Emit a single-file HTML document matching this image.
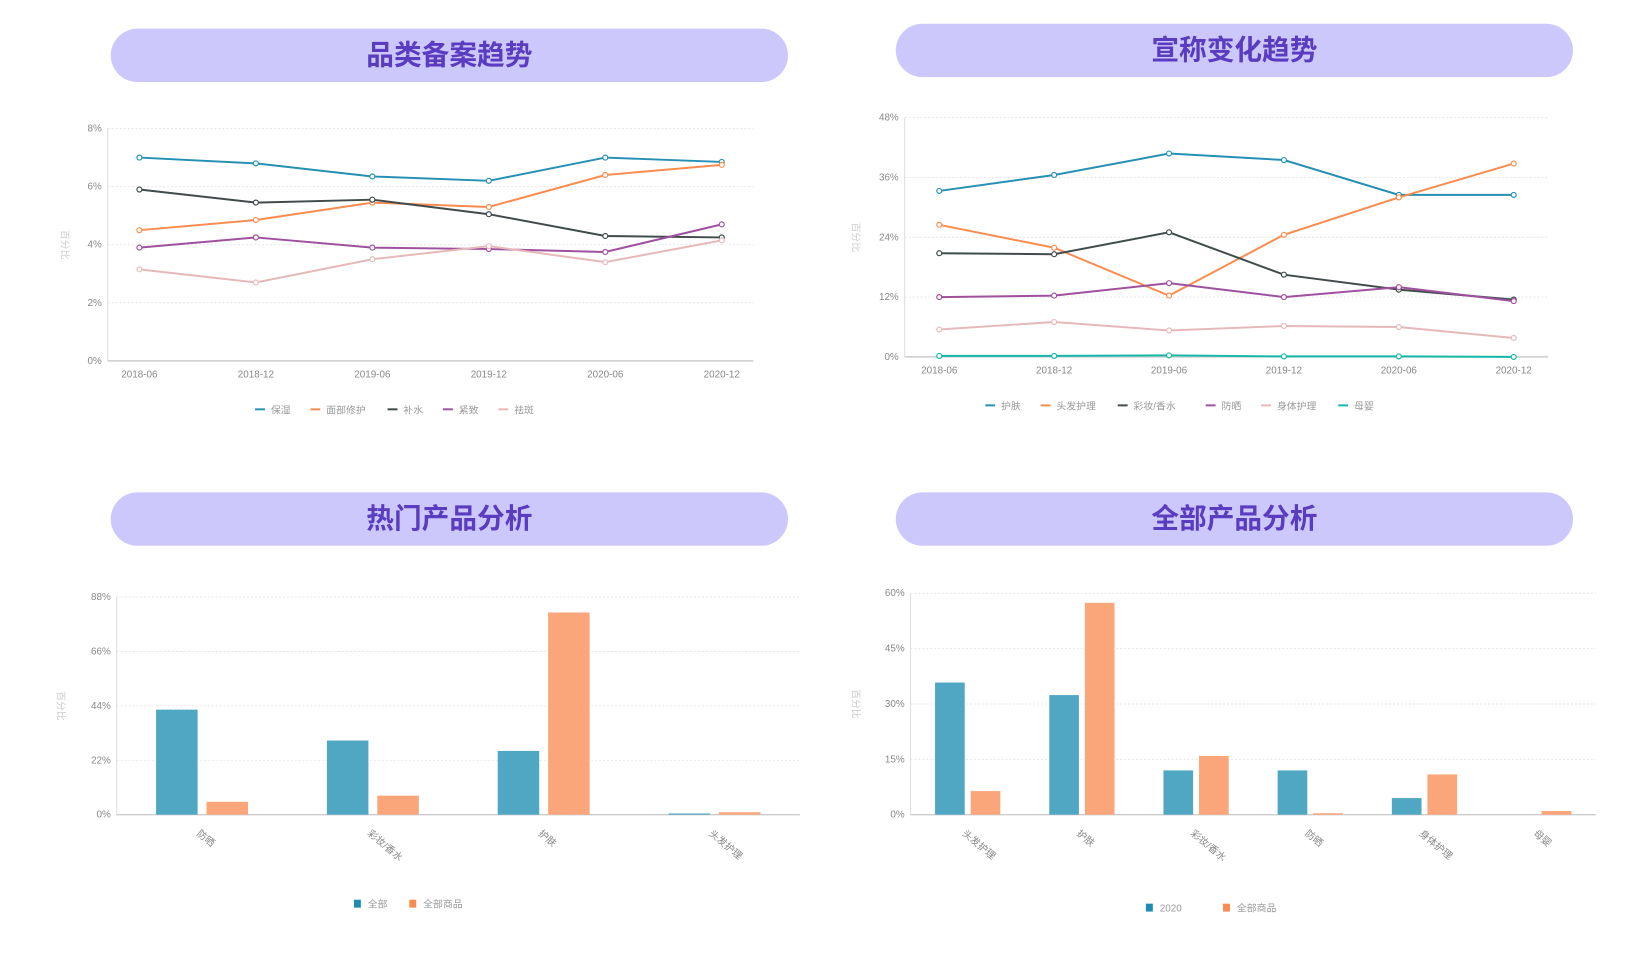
<!DOCTYPE html>
<html><head><meta charset="utf-8">
<style>
html,body{margin:0;padding:0;background:#fff;}
body{width:1646px;height:958px;position:relative;overflow:hidden;font-family:"Liberation Sans","Noto Sans CJK SC",sans-serif;}
#wrap{position:absolute;left:0;top:0;width:1646px;height:958px;transform:scale(0.9887);transform-origin:0 0;}
.pill{position:absolute;height:54px;width:685px;border-radius:27px;background:#cdc8fb;color:#5a3cc0;font-weight:bold;font-size:28px;text-align:center;line-height:54px;font-family:"Liberation Sans","Noto Sans CJK SC",sans-serif;}
svg{position:absolute;left:0;top:0;}
</style></head>
<body>
<div id="wrap">
<div class="pill" style="left:112px;top:29px;">品类备案趋势</div>
<div class="pill" style="left:906px;top:24px;">宣称变化趋势</div>
<div class="pill" style="left:112px;top:498px;">热门产品分析</div>
<div class="pill" style="left:906px;top:498px;">全部产品分析</div>
<svg id="svg" width="1646" height="958"></svg>
</div>
<script>
const months = ["2018-06","2018-12","2019-06","2019-12","2020-06","2020-12"];
const c1Names = ["保湿","面部修护","补水","紧致","祛斑"];
const c1Ticks = [0,2,4,6,8];
const c1Hydrate = [7.0,6.8,6.35,6.2,7.0,6.85];
const c1Repair = [4.5,4.85,5.45,5.3,6.4,6.75];
const c1Water = [5.9,5.45,5.55,5.05,4.3,4.25];
const c1Firm = [3.9,4.25,3.9,3.85,3.75,4.7];
const c1Spot = [3.15,2.7,3.5,3.95,3.4,4.15];

const c2Names = ["护肤","头发护理","彩妆/香水","防晒","身体护理","母婴"];
const c2Ticks = [0,12,24,36,48];
const c2Skin = [33.3,36.5,40.8,39.5,32.5,32.5];
const c2Hair = [26.5,21.9,12.3,24.5,32.0,38.8];
const c2Makeup = [20.8,20.6,25.0,16.5,13.5,11.5];
const c2Sun = [12.0,12.3,14.8,12.0,14.0,11.2];
const c2Body = [5.5,7.0,5.3,6.2,6.0,3.8];
const c2Baby = [0.2,0.2,0.3,0.1,0.1,0.0];

const c3Cats = ["防晒","彩妆/香水","护肤","头发护理"];
const c3Ticks = [0,22,44,66,88];
const c3Series = ["全部","全部商品"];
const c3All = [42.5,30,25.8,0.5];
const c3Goods = [5.2,7.7,81.8,1.0];

const c4Cats = ["头发护理","护肤","彩妆/香水","防晒","身体护理","母婴"];
const c4Ticks = [0,15,30,45,60];
const c4Series = ["2020","全部商品"];
const c4Y2020 = [35.8,32.4,12.0,12.0,4.5,0];
const c4Goods = [6.4,57.4,15.9,0.4,10.9,1.0];

const NS="http://www.w3.org/2000/svg";
const svg=document.getElementById('svg');
function mk(tag,attrs,parent){const e=document.createElementNS(NS,tag);for(const k in attrs)e.setAttribute(k,attrs[k]);(parent||svg).appendChild(e);return e;}
function txt(s,attrs){const t=mk('text',Object.assign({'font-size':10,fill:'#888','font-family':'"Liberation Sans","Noto Sans CJK SC",sans-serif'},attrs));t.textContent=s;return t;}

function axesFrame(g,L,R,T,B,ticks,yname,ynx){
  const max=ticks[ticks.length-1];
  const ys=v=>B-(v/max)*(B-T);
  ticks.forEach(v=>{
    if(v>0){const gl=mk('line',{x1:L,x2:R,y1:ys(v),y2:ys(v),stroke:'#e6e6e6','stroke-dasharray':'2,2'},g);
    }
    const t=txt(v+'%',{x:L-6,y:ys(v)+3,'text-anchor':'end'});
    
  });
  const ax=mk('line',{x1:L,x2:L,y1:T,y2:B,stroke:'#ddd'},g);
  
  const bx=mk('line',{x1:L,x2:R,y1:B,y2:B,stroke:'#ccc','stroke-width':1.5},g);
  
  const yt=txt(yname,{x:ynx,y:(T+B)/2,'text-anchor':'middle',fill:'#ccc',transform:`rotate(90 ${ynx} ${(T+B)/2})`});
  
  return ys;
}

function lineChart(name,L,R,T,B,pad,ticks,series,names,colors,legX,legY,ynx){
  const g=mk('g',{});
  const ys=axesFrame(g,L,R,T,B,ticks,'百分比',ynx);
  const step=(R-L-2*pad)/(months.length-1);
  const xs=i=>L+pad+i*step;
  months.forEach((m,i)=>{
    const t=txt(m,{x:xs(i),y:B+17,'text-anchor':'middle'});
    
  });
  series.forEach((s,si)=>{
    const p=mk('polyline',{points:s.map((v,i)=>xs(i)+','+ys(v)).join(' '),fill:'none',stroke:colors[si],'stroke-width':2},g);
    
    s.forEach((v,i)=>{const c=mk('circle',{cx:xs(i),cy:ys(v),r:2.5,fill:'#fff',stroke:colors[si],'stroke-width':1.2},g);
      });
  });
  const widths=names.map(n=>24+n.length*11+10);
  let total=widths.reduce((a,b)=>a+b,0);let x=legX-total/2;
  names.forEach((n,i)=>{
    const lg=mk('g',{},g);
    mk('line',{x1:x,x2:x+10,y1:legY,y2:legY,stroke:colors[i],'stroke-width':2},lg);
    const t=txt(n,{x:x+16,y:legY+4,fill:'#999'});lg.appendChild(t);
    x+=widths[i];
  });
}

function barChart(name,L,R,T,B,ticks,cats,s1,s2,snames,bw,gap,legX,legY,ynx){
  const g=mk('g',{});
  const ys=axesFrame(g,L,R,T,B,ticks,'百分比',ynx);
  const band=(R-L)/cats.length;
  const cols=['#4fa7c3','#fba57a'];
  cats.forEach((c,i)=>{
    const cx=L+band*(i+0.5);
    [s1,s2].forEach((s,si)=>{
      const x=si===0?cx-gap/2-bw:cx+gap/2;
      const r=mk('rect',{x:x,y:ys(s[i]),width:bw,height:B-ys(s[i]),fill:cols[si]},g);
      
    });
    const t=txt(c,{x:cx-6,y:B+20,transform:`rotate(40 ${cx-6} ${B+20})`});
    
  });
  const widths=snames.map(n=>20+n.length*11+14);
  let total=widths.reduce((a,b)=>a+b,0);let x=legX-total/2;
  snames.forEach((n,i)=>{
    const lg=mk('g',{},g);
    mk('rect',{x:x,y:legY-4,width:7,height:8,fill:i===0?'#1f8bb0':'#f98c4e'},lg);
    lg.appendChild(txt(n,{x:x+14,y:legY+4,fill:'#999'}));
    x+=widths[i];
  });
}

lineChart('category-trend-chart',109,762,130,365,32,c1Ticks,[c1Hydrate,c1Repair,c1Water,c1Firm,c1Spot],c1Names,
  ['#2590b3','#f98c4e','#414b4b','#9f509f','#e6b9b9'],409,414,62);
lineChart('claim-trend-chart',915,1566,119,361,35,c2Ticks,[c2Skin,c2Hair,c2Makeup,c2Sun,c2Body,c2Baby],c2Names,
  ['#2590b3','#f98c4e','#414b4b','#9f509f','#e6b9b9','#15b8a8'],1203,410,862);
barChart('hot-product-chart',118,809,604,824,c3Ticks,c3Cats,c3All,c3Goods,c3Series,42,9,425,914,58);
barChart('all-product-chart',921,1614,600,824,c4Ticks,c4Cats,c4Y2020,c4Goods,c4Series,30,6,1237,918,862);
</script>
</body></html>
